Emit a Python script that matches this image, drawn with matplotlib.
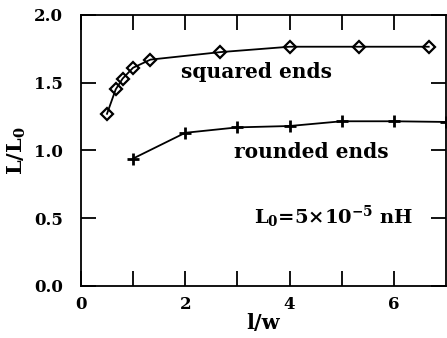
import matplotlib
matplotlib.use("Agg")
import matplotlib.pyplot as plt

squared_x = [0.5, 2/3, 0.8, 1.0, 4/3, 8/3, 4.0, 16/3, 20/3]
squared_y = [1.27, 1.45, 1.53, 1.61, 1.67, 1.725, 1.765, 1.765, 1.765]
rounded_x = [1.0, 2.0, 3.0, 4.0, 5.0, 6.0, 7.0]
rounded_y = [0.94, 1.13, 1.17, 1.18, 1.215, 1.215, 1.21]

xticklabels = ["0", "2", "4", "6"]
yticklabels = ["0.0", "0.5", "1.0", "1.5", "2.0"]

plt.rcParams['font.family'] = ['DejaVu Serif']
plt.rcParams['mathtext.fontset'] = 'dejavuserif'
plt.rcParams['font.weight'] = 'bold'
plt.rcParams['mathtext.default'] = 'bf'

fig = plt.figure(figsize=(4.47, 3.38), dpi=100)
ax = fig.add_axes([0.181, 0.154, 0.817, 0.802])

ax.plot(squared_x, squared_y, color='black', lw=1.3, marker='D', ms=6,
        mfc='none', mec='black', mew=1.6)
ax.plot(rounded_x, rounded_y, color='black', lw=1.3, marker='+', ms=8,
        mec='black', mew=2.0, clip_on=False)

ax.set_xlim(0, 7)
ax.set_ylim(0, 2.0)
ax.set_xticks([0, 2, 4, 6], labels=xticklabels)
ax.set_xticks([1, 3, 5], minor=True)
ax.set_yticks([0, 0.5, 1.0, 1.5, 2.0], labels=yticklabels)
ax.tick_params(which='both', direction='in', length=11, width=1.3,
               top=True, right=True, labelsize=12)
ax.tick_params(axis='y', pad=13)
ax.tick_params(axis='x', pad=7)
for s in ax.spines.values():
    s.set_linewidth(1.3)

ax.set_xlabel('l/w', fontsize=15, fontweight='bold', labelpad=0)
ax.set_ylabel(r'L/L$_0$', fontsize=15, fontweight='bold', labelpad=4)

ax.text(3.37, 1.58, 'squared ends', fontsize=14.5, fontweight='bold',
        ha='center', va='center')
ax.text(4.42, 0.985, 'rounded ends', fontsize=14.5, fontweight='bold',
        ha='center', va='center')
ax.text(4.85, 0.51, r'L$_0$=5$\times$10$^{-5}$ nH', fontsize=14,
        fontweight='bold', ha='center', va='center')

fig.savefig('out.png', dpi=100)
